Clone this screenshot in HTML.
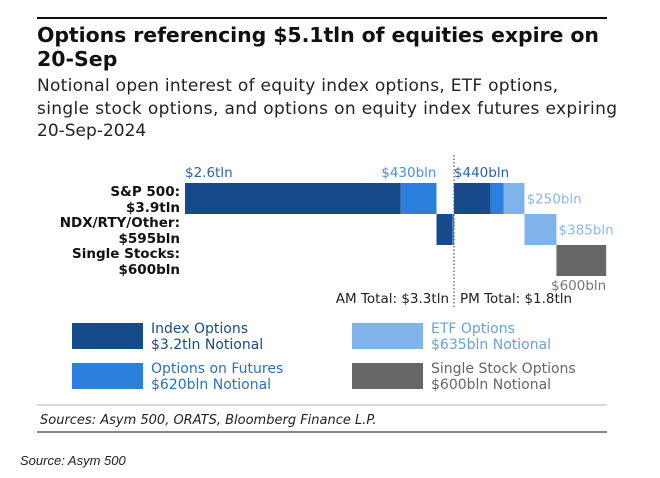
<!DOCTYPE html>
<html><head><meta charset="utf-8"><style>
body{margin:0;background:#fff;width:660px;height:478px;overflow:hidden;font-family:"DejaVu Sans","Liberation Sans",sans-serif}
svg{display:block}
</style></head><body>
<svg id="c" width="660" height="478" xmlns="http://www.w3.org/2000/svg">
<line x1="37" y1="18" x2="607" y2="18" stroke="#111" stroke-width="2"/>
<text x="37" y="42" font-size="20.5" font-weight="bold" fill="#111" textLength="562">Options referencing $5.1tln of equities expire on</text>
<text x="37" y="66" font-size="20.5" font-weight="bold" fill="#111">20-Sep</text>
<g font-size="17" fill="#222">
<text x="37" y="91" textLength="521">Notional open interest of equity index options, ETF options,</text>
<text x="37" y="114" textLength="580">single stock options, and options on equity index futures expiring</text>
<text x="37" y="136">20-Sep-2024</text>
</g>
<g font-size="13.5" font-weight="bold" fill="#111" text-anchor="end">
<text x="180" y="196">S&amp;P 500:</text><text x="180" y="212">$3.9tln</text>
<text x="180" y="227">NDX/RTY/Other:</text><text x="180" y="243">$595bln</text>
<text x="180" y="258">Single Stocks:</text><text x="180" y="274">$600bln</text>
</g>
<g id="bars"></g>
<line x1="454" y1="155" x2="454" y2="308" stroke="#555" stroke-dasharray="1.5,2" stroke-width="1.2"/>
<g font-size="13.5" fill="#222">
<text x="449" y="303" text-anchor="end">AM Total: $3.3tln</text>
<text x="460" y="303">PM Total: $1.8tln</text>
</g>
<g font-size="14" fill="#1a4a8a">
<rect x="72" y="323" width="71" height="26" fill="#174a8b"/>
<text x="151" y="333">Index Options</text><text x="151" y="349">$3.2tln Notional</text>
<rect x="72" y="363" width="71" height="26" fill="#2a80dc"/>
<text x="151" y="373" fill="#2a6fc0">Options on Futures</text><text x="151" y="389" fill="#2a6fc0">$620bln Notional</text>
<rect x="352" y="323" width="71" height="26" fill="#80b3ea"/>
<text x="431" y="333" fill="#6a9fdc">ETF Options</text><text x="431" y="349" fill="#6a9fdc">$635bln Notional</text>
<rect x="352" y="363" width="71" height="26" fill="#666"/>
<text x="431" y="373" fill="#666">Single Stock Options</text><text x="431" y="389" fill="#666">$600bln Notional</text>
</g>
<line x1="37" y1="405" x2="607" y2="405" stroke="#999" stroke-width="0.8"/>
<text x="40" y="424" font-size="13" font-style="italic" fill="#222">Sources: Asym 500, ORATS, Bloomberg Finance L.P.</text>
<line x1="37" y1="432" x2="607" y2="432" stroke="#111" stroke-width="1"/>
<text x="20" y="465" font-size="13" font-style="italic" fill="#222" font-family="Liberation Sans, sans-serif">Source: Asym 500</text>
</svg>
<script>
const segRows=[0,0,1,1,0,0,0,1,2];
const segValues=[2.6,0.43,0.19,0.02,0.44,0.16,0.25,0.385,0.6];
const segTypes=["index","futures","index","futures","index","futures","etf","etf","single"];
const segLabels=["$2.6tln","$430bln","","","$440bln","","$250bln","$385bln","$600bln"];
const colors={index:"#174a8b",futures:"#2a80dc",etf:"#80b3ea",single:"#666"};
const labelColors={index:"#2a62a8",futures:"#4a90dc",etf:"#8ab8ea",single:"#777"};
const x0=185,pxPerTln=83,rowTop=183,rowH=31;
function xs(v){return x0+v*pxPerTln;}
function ys(r){return rowTop+r*rowH;}
const g=document.getElementById('bars');const NS="http://www.w3.org/2000/svg";
let cum=0;
segValues.forEach((v,i)=>{
  const r=document.createElementNS(NS,'rect');
  const xa=xs(cum),xb=xs(cum+v),y=ys(segRows[i]);
  r.setAttribute('x',xa);r.setAttribute('y',y);r.setAttribute('width',xb-xa);r.setAttribute('height',rowH);
  r.setAttribute('fill',colors[segTypes[i]]);
  
  
  g.appendChild(r);
  const lab=segLabels[i];
  if(lab){
    const t=document.createElementNS(NS,'text');
    t.setAttribute('font-size','13.5');t.setAttribute('fill',labelColors[segTypes[i]]);
    let tx,ty,anchor='start';
    if(i===0||i===4){tx=xa;ty=y-6;}
    else if(i===1){tx=xb;ty=y-6;anchor='end';}
    else if(i===8){tx=xb;ty=y+rowH+14;anchor='end';}
    else {tx=xb+2;ty=y+rowH/2+5;}
    t.setAttribute('x',tx);t.setAttribute('y',ty);t.setAttribute('text-anchor',anchor);
    t.textContent=lab;
    
    
    g.appendChild(t);
  }
  cum+=v;
});
</script>
</body></html>
